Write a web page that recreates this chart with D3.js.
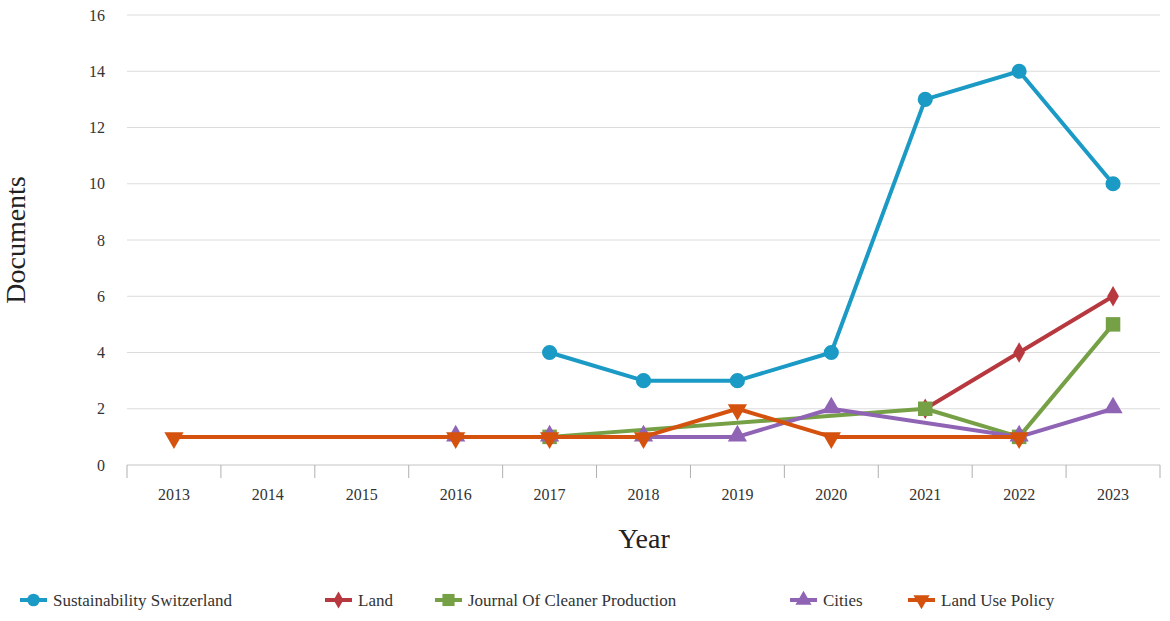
<!DOCTYPE html>
<html>
<head>
<meta charset="utf-8">
<script src="https://cdn.jsdelivr.net/npm/d3@7"></script>
<style>
  html, body { margin: 0; padding: 0; background: #fff; }
  svg { display: block; }
  text { font-family: 'Liberation Serif', 'Times New Roman', serif; }
</style>
</head>
<body>
<svg id="chart" width="1170" height="621"></svg>
<script>
const years = ["2013","2014","2015","2016","2017","2018","2019","2020","2021","2022","2023"];
const yTicks = [0, 2, 4, 6, 8, 10, 12, 14, 16];
const seriesNames = ["Sustainability Switzerland", "Land", "Journal Of Cleaner Production", "Cities", "Land Use Policy"];
const sustainabilitySwitzerland = [null, null, null, null, 4, 3, 3, 4, 13, 14, 10];
const land = [null, null, null, null, null, null, null, null, 2, 4, 6];
const journalCleanerProduction = [null, null, null, null, 1, null, null, null, 2, 1, 5];
const cities = [null, null, null, 1, 1, 1, 1, 2, null, 1, 2];
const landUsePolicy = [1, null, null, 1, 1, 1, 2, 1, null, 1, null];
const seriesValues = [sustainabilitySwitzerland, land, journalCleanerProduction, cities, landUsePolicy];
const colors = ["#1a9ac5", "#b7393f", "#76a046", "#9064b5", "#d4520e"];

(function () {
const svg = d3.select("#chart");
const pLeft = 127, pRight = 1160, pTop = 15, pBottom = 465;
const x = d3.scaleBand().domain(years).range([pLeft, pRight]).padding(0);
const y = d3.scaleLinear().domain([0, 16]).range([pBottom, pTop]);
const cx = d => x(d) + x.bandwidth() / 2;

// gridlines
svg.append("g").selectAll("line").data(yTicks.filter(t => t > 0)).join("line")
  .attr("x1", pLeft).attr("x2", pRight)
  .attr("y1", d => y(d)).attr("y2", d => y(d))
  .attr("stroke", "#dcdcdc").attr("stroke-width", 1);

// y tick labels
svg.append("g").selectAll("text").data(yTicks).join("text")
  .attr("x", 105).attr("y", d => y(d)).attr("dy", "0.35em")
  .attr("text-anchor", "end")
  .attr("font-size", 16)
  .attr("fill", "#333").text(d => d);

// x axis line
svg.append("line").attr("x1", pLeft).attr("x2", pRight)
  .attr("y1", pBottom).attr("y2", pBottom)
  .attr("stroke", "#c4c4c4").attr("stroke-width", 1);

// x tick marks at band boundaries
const boundaries = years.map(d => x(d)).concat([pRight]);
svg.append("g").selectAll("line").data(boundaries).join("line")
  .attr("x1", d => d).attr("x2", d => d)
  .attr("y1", pBottom).attr("y2", pBottom + 13)
  .attr("stroke", "#b0b0b0").attr("stroke-width", 1);

// x tick labels
svg.append("g").selectAll("text").data(years).join("text")
  .attr("x", d => cx(d)).attr("y", 494).attr("dy", "0.35em")
  .attr("text-anchor", "middle")
  .attr("font-size", 16)
  .attr("fill", "#333").text(d => d);

// axis titles
svg.append("text").attr("x", 644).attr("y", 538).attr("dy", "0.35em")
  .attr("text-anchor", "middle")
  .attr("font-size", 28)
  .attr("fill", "#222").text("Year");
svg.append("text").attr("transform", "translate(15,240) rotate(-90)")
  .attr("dy", "0.35em").attr("text-anchor", "middle")
  .attr("font-size", 28)
  .attr("fill", "#222").text("Documents");

const symbols = [d3.symbolCircle, d3.symbolDiamond, d3.symbolSquare, d3.symbolTriangle, d3.symbolTriangle];
const sizes = [180, 120, 210, 160, 160];
const rotations = [0, 0, 0, 0, 180];

const line = d3.line().x(d => cx(d.year)).y(d => y(d.v));

seriesValues.forEach((vals, i) => {
  const pts = years.map((yr, j) => ({ year: yr, v: vals[j] })).filter(d => d.v !== null);
  const g = svg.append("g");
  g.append("path").datum(pts).attr("d", line)
    .attr("fill", "none").attr("stroke", colors[i]).attr("stroke-width", 4)
    .attr("stroke-linejoin", "round");
  g.selectAll("path.m").data(pts).join("path").attr("class", "m")
    .attr("d", d3.symbol().type(symbols[i]).size(sizes[i]))
    .attr("transform", d => `translate(${cx(d.year)},${y(d.v) + (i === 3 ? -1 : i === 4 ? 1 : 0)}) rotate(${rotations[i]})`)
    .attr("fill", colors[i]);
});

// legend
const legendX = [20, 325, 435, 790, 908];
const legendY = 600;
seriesNames.forEach((name, i) => {
  const g = svg.append("g").attr("transform", `translate(${legendX[i]},${legendY})`);
  g.append("line").attr("x1", 0).attr("x2", 27).attr("y1", 0).attr("y2", 0)
    .attr("stroke", colors[i]).attr("stroke-width", 4);
  g.append("path").attr("d", d3.symbol().type(symbols[i]).size(sizes[i] * 0.7))
    .attr("transform", `translate(13.5,0) rotate(${rotations[i]})`)
    .attr("fill", colors[i]);
  g.append("text").attr("x", 33).attr("y", 0).attr("dy", "0.35em")
    .attr("font-size", 17)
    .attr("fill", "#333").text(name);
});
})();
</script>
</body>
</html>
